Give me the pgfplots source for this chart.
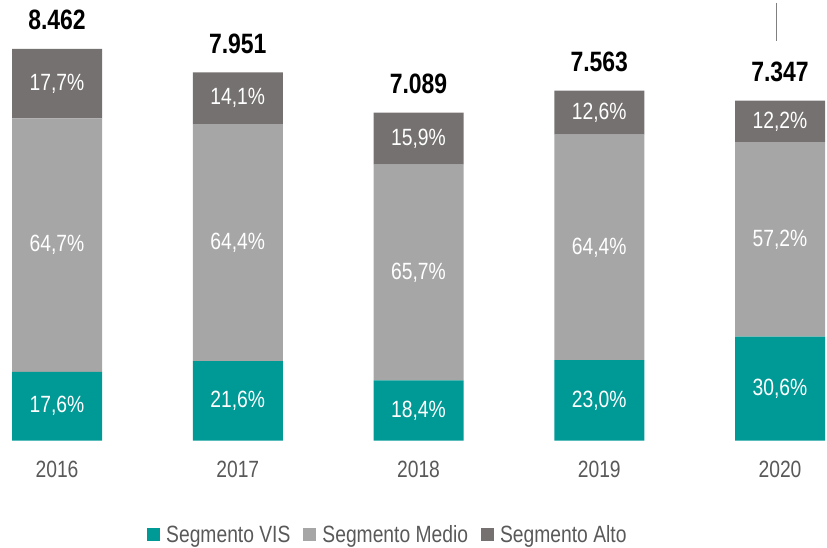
\documentclass[border=0pt]{standalone}
\usepackage{fontspec}
\setmainfont{Liberation Sans}[FakeStretch=0.82]
\usepackage{pgfplots}
\pgfplotsset{compat=1.18}
\definecolor{vis}{HTML}{009A96}
\definecolor{medio}{HTML}{A6A6A6}
\definecolor{alto}{HTML}{767171}
\definecolor{txt}{HTML}{595959}
\pgfplotsset{
  frame/.style={
    at={(0bp,107.3bp)}, anchor=south west,
    scale only axis, width=827bp, height=440.7bp,
    xmin=-0.3154, xmax=4.26, ymin=0, ymax=9520,
    axis line style={draw=none}, tick style={draw=none},
    ytick=\empty, clip=false,
  }
}
\begin{document}
\begin{tikzpicture}
\useasboundingbox (0,0) rectangle (827bp,548bp);
\begin{axis}[
  frame,
  ybar stacked, bar width=90bp,
  xtick={0,1,2,3,4}, xticklabels={2016,2017,2018,2019,2020},
  xticklabel style={font=\fontsize{23.5bp}{28bp}\selectfont, text=txt, anchor=base, yshift=-37bp},
  legend style={at={(0.469,-0.213)}, anchor=center, legend columns=-1, draw=none, fill=none,
    font=\fontsize{23.5bp}{28bp}\selectfont, text=txt,
    /tikz/every odd column/.append style={column sep=4bp},
    /tikz/every even column/.append style={column sep=11bp}},
  legend image code/.code={\fill[#1] (0bp,-6.5bp) rectangle (13bp,6.5bp);},
]
\addplot[fill=vis, draw=none] table {
x y
0 1489.3
1 1717.4
2 1304.4
3 1739.5
4 2248.2
};
\addlegendentry{Segmento VIS}
\addplot[fill=medio, draw=none] table {
x y
0 5474.9
1 5120.4
2 4657.5
3 4870.6
4 4202.5
};
\addlegendentry{Segmento Medio}
\addplot[fill=alto, draw=none] table {
x y
0 1497.8
1 1121.1
2 1127.2
3 952.9
4 896.3
};
\addlegendentry{Segmento Alto}
\end{axis}
\begin{axis}[
  frame, xtick=\empty,
  point meta=explicit symbolic,
  nodes near coords,
  every node near coord/.append style={font=\fontsize{23.5bp}{28bp}\selectfont, text=white, anchor=center, inner sep=0pt},
]
% label positions: middle of each segment
\addplot[draw=none, mark=none] table[meta=lab] {
x y lab
0 744.7 17,6\%
1 858.7 21,6\%
2 652.2 18,4\%
3 869.8 23,0\%
4 1124.1 30,6\%
};
\addplot[draw=none, mark=none] table[meta=lab] {
x y lab
0 4226.8 64,7\%
1 4277.6 64,4\%
2 3633.2 65,7\%
3 4174.8 64,4\%
4 4349.5 57,2\%
};
\addplot[draw=none, mark=none] table[meta=lab] {
x y lab
0 7713.1 17,7\%
1 7398.4 14,1\%
2 6525.5 15,9\%
3 7086.6 12,6\%
4 6898.9 12,2\%
};
% totals above the bars
\addplot[draw=none, mark=none,
  nodes near coords style={font=\bfseries\fontsize{28bp}{32bp}\selectfont, text=black, anchor=base, yshift=19bp}]
  table[meta=lab] {
x y lab
0 8462 8.462
1 7958.9 7.951
2 7089 7.089
3 7563 7.563
4 7347 7.347
};
\end{axis}
\draw[color=black!50, line width=1bp] (776bp,545bp) -- (776bp,507bp);
\end{tikzpicture}
\end{document}
